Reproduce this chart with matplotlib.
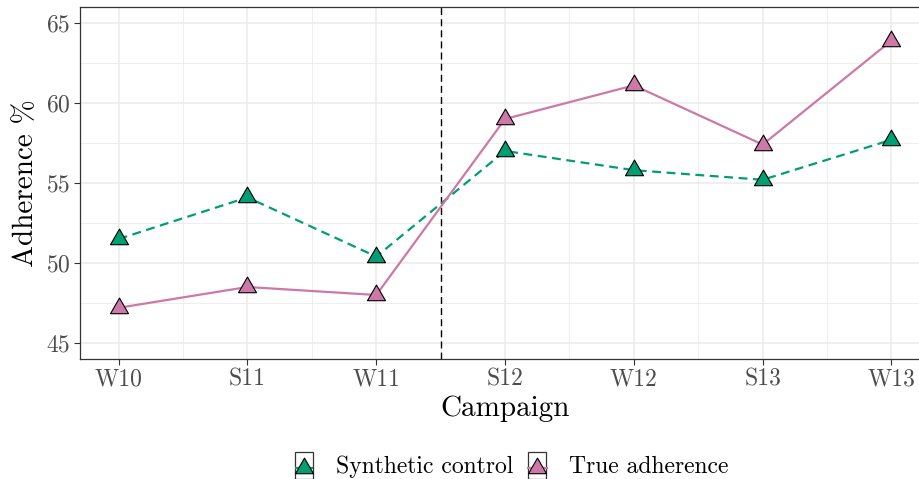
import matplotlib
matplotlib.use("Agg")
import matplotlib.pyplot as plt
import numpy as np
from matplotlib.path import Path
from matplotlib.patches import Rectangle
from matplotlib.legend_handler import HandlerLine2D
from matplotlib.ticker import MultipleLocator

campaigns = ["W10", "S11", "W11", "S12", "W12", "S13", "W13"]
synthetic = [51.5, 54.1, 50.4, 57.0, 55.8, 55.2, 57.7]
true_adh = [47.2, 48.5, 48.0, 59.0, 61.1, 57.4, 63.9]
intervention = 2.5  # between W11 and S12

plt.rcParams["font.family"] = ["cmr10", "DejaVu Serif"]
plt.rcParams["axes.formatter.use_mathtext"] = True

# triangle centred on its centroid, like R's pch 24
tri = Path([(0, 1), (-0.866, -0.5), (0.866, -0.5), (0, 1)],
           [Path.MOVETO, Path.LINETO, Path.LINETO, Path.CLOSEPOLY])


class ShiftedHandler(HandlerLine2D):
    def create_artists(self, legend, orig_handle, xdescent, ydescent,
                       width, height, fontsize, trans):
        arts = super().create_artists(legend, orig_handle, xdescent, ydescent,
                                      width, height, fontsize, trans)
        for a in arts:
            a.set_ydata(np.asarray(a.get_ydata()) - 3.2)
        return arts


fig = plt.figure(figsize=(9.2, 4.79), dpi=100)
ax = fig.add_axes([0.087, 0.2505, 0.924, 0.735])

x = list(range(len(campaigns)))
ax.axvline(intervention, color="black", ls=(0, (5, 3)), lw=1.0, zorder=2)
ax.plot(x, synthetic, color="#009E73", ls=(0, (4, 2.5)), lw=1.6,
        marker=tri, ms=15, mfc="#009E73", mec="black", mew=0.8,
        label="Synthetic control", zorder=3)
ax.plot(x, true_adh, color="#CC79A7", lw=1.6,
        marker=tri, ms=15, mfc="#CC79A7", mec="black", mew=0.8,
        label="True adherence", zorder=3)

ax.set_xlim(-0.3, 6.3)
ax.set_ylim(44, 66)
ax.set_xticks(x)
ax.set_xticklabels(campaigns)
ax.xaxis.set_minor_locator(MultipleLocator(1, offset=0.5))
ax.yaxis.set_major_locator(MultipleLocator(5))
ax.yaxis.set_minor_locator(MultipleLocator(2.5))

ax.grid(which="major", color="#EBEBEB", lw=1.1, zorder=0)
ax.grid(which="minor", color="#EBEBEB", lw=0.6, zorder=0)
ax.set_axisbelow(True)
for s in ax.spines.values():
    s.set_color("#333333")
    s.set_linewidth(0.9)
ax.tick_params(which="major", length=4, color="#333333", labelsize=17,
               labelcolor="#4D4D4D", pad=3)
ax.tick_params(which="minor", length=0)

ax.set_xlabel("Campaign", fontsize=21, labelpad=3)
ax.set_ylabel("Adherence %", fontsize=21, labelpad=5)

leg = fig.legend(loc="center", bbox_to_anchor=(0.556, 0.027), ncol=2,
                 frameon=False, fontsize=17, handlelength=0.78,
                 handleheight=1.15, handletextpad=0.95, columnspacing=0.65,
                 borderaxespad=0,
                 handler_map={plt.Line2D: ShiftedHandler(numpoints=1)})
leg.set_zorder(6)

# ggplot-style boxed legend keys around the drawn key symbols
fig.canvas.draw()
r = fig.canvas.get_renderer()
W, H = fig.bbox.width, fig.bbox.height
for h in leg.legend_handles:
    bb = h.get_window_extent(r)
    cx, cy = (bb.x0 + bb.x1) / 2, (bb.y0 + bb.y1) / 2 + 2.6
    fig.add_artist(Rectangle(((cx - 9) / W, (cy - 13.5) / H), 18 / W, 27 / H,
                             fc="white", ec="#333333", lw=0.9,
                             transform=fig.transFigure, zorder=5))

fig.savefig("out.png", dpi=100)
